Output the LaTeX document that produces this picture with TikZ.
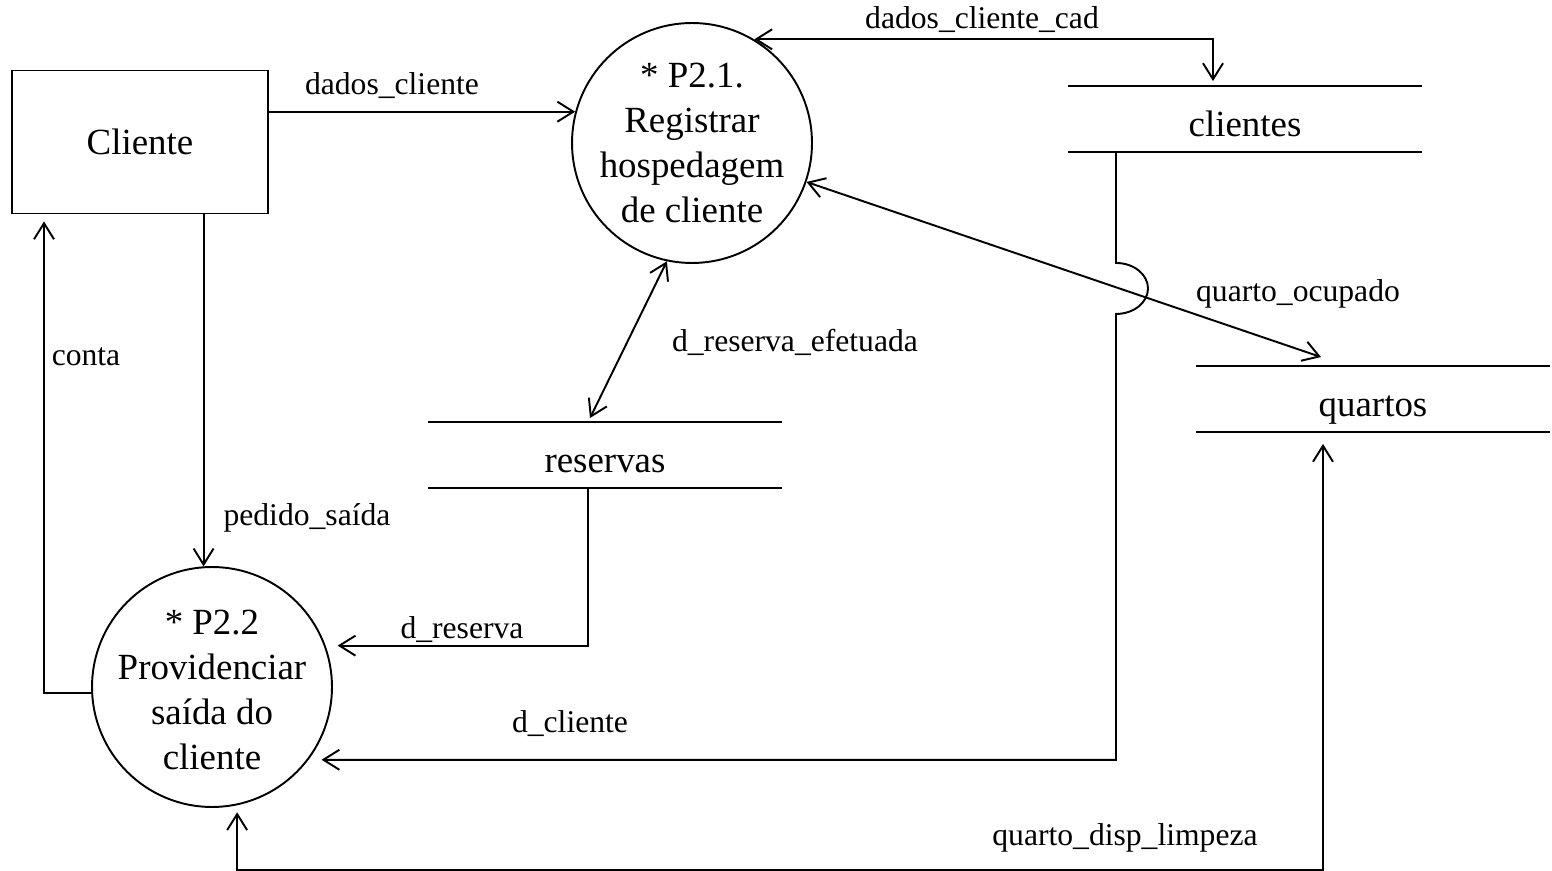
\documentclass[tikz,border=0pt]{standalone}
\usepackage{fontspec}
\setmainfont{Liberation Serif}
\usetikzlibrary{calc}
\usetikzlibrary{arrows.meta}

\begin{document}
\begin{tikzpicture}[x=0.02cm, y=-0.02cm, line width=1.1pt,
        >={Straight Barb[length=0.32cm, width=0.4cm]},
        ent/.style={draw, rectangle, minimum width=5.12cm, minimum height=2.86cm, font=\fontsize{21}{25.6}\selectfont},
        proc/.style={draw, circle, minimum size=4.8cm, inner sep=0pt},
        ptext/.style={align=center, inner sep=0pt, font=\fontsize{21}{25.6}\selectfont},
        store/.style={minimum width=7.04cm, minimum height=1.28cm, inner sep=0pt, text height=20pt, text depth=0pt, font=\fontsize{21}{25.6}\selectfont},
        lbl/.style={inner sep=1pt, font=\fontsize{18}{21}\selectfont}]
    \useasboundingbox (0,0) rectangle (1552,871);

    \node[ent] (cli) at (140,142) {Cliente};
    \node[proc] (p21) at (692,143) {};
    \node[ptext] (p21t) at (p21) {* P2.1.\\Registrar\\hospedagem\\de cliente};
    \node[proc] (p22) at (212,687) {};
    \node[ptext] (p22t) at (212,690) {* P2.2\\Providenciar\\saída do\\cliente};
    \node[store] (cl) at (1245,119) {clientes};
    \node[store] (qu) at (1373,399) {quartos};
    \node[store] (rs) at (605,455) {reservas};

    \foreach \s in {cl, qu, rs}
        \draw (\s.north west) -- (\s.north east) (\s.south west) -- (\s.south east);

    \draw[->] (cli.east |- p21.165) -- (p21.165);
    \draw[<->] (p21.59) -| ($(cl.north)+(-32,-5)$);
    \draw[<->] (p21) -- ($(qu.north)+(-52,-9)$);
    \draw[->, shorten >=0.26cm] ($(cl.south)+(-129,0)$) -- ++(0,111)
        arc[start angle=-90, end angle=90, x radius=32, y radius=25.5]
        |- (p22.-37);
    \draw[<->] (p21.-102) -- ($(rs.north)+(-15,-4)$);
    \draw[->, shorten >=0.24cm] ($(rs.south)+(-17,0)$) |- (p22.20);
    \draw[->] (p22.94 |- cli.south) -- (p22.94);
    \draw[->] (p22.183) -| ($(cli.south)+(-96,7)$);
    \draw[<->, shorten >=0.14cm] ($(qu.south)+(-50,12)$) -- ++(0,426) -| (p22.-78);

    \node[lbl] (l1) at (392,86) {dados\_cliente};
    \node[lbl] (l2) at (982,20) {dados\_cliente\_cad};
    \node[lbl] (l3) at (1298,294) {quarto\_ocupado};
    \node[lbl] (l4) at (795,342) {d\_reserva\_efetuada};
    \node[lbl] (l5) at (307,518) {pedido\_saída};
    \node[lbl] (l6) at (86,357) {conta};
    \node[lbl] (l7) at (462,630) {d\_reserva};
    \node[lbl] (l8) at (570,724) {d\_cliente};
    \node[lbl] (l9) at (1125,838) {quarto\_disp\_limpeza};
\end{tikzpicture}
\end{document}
